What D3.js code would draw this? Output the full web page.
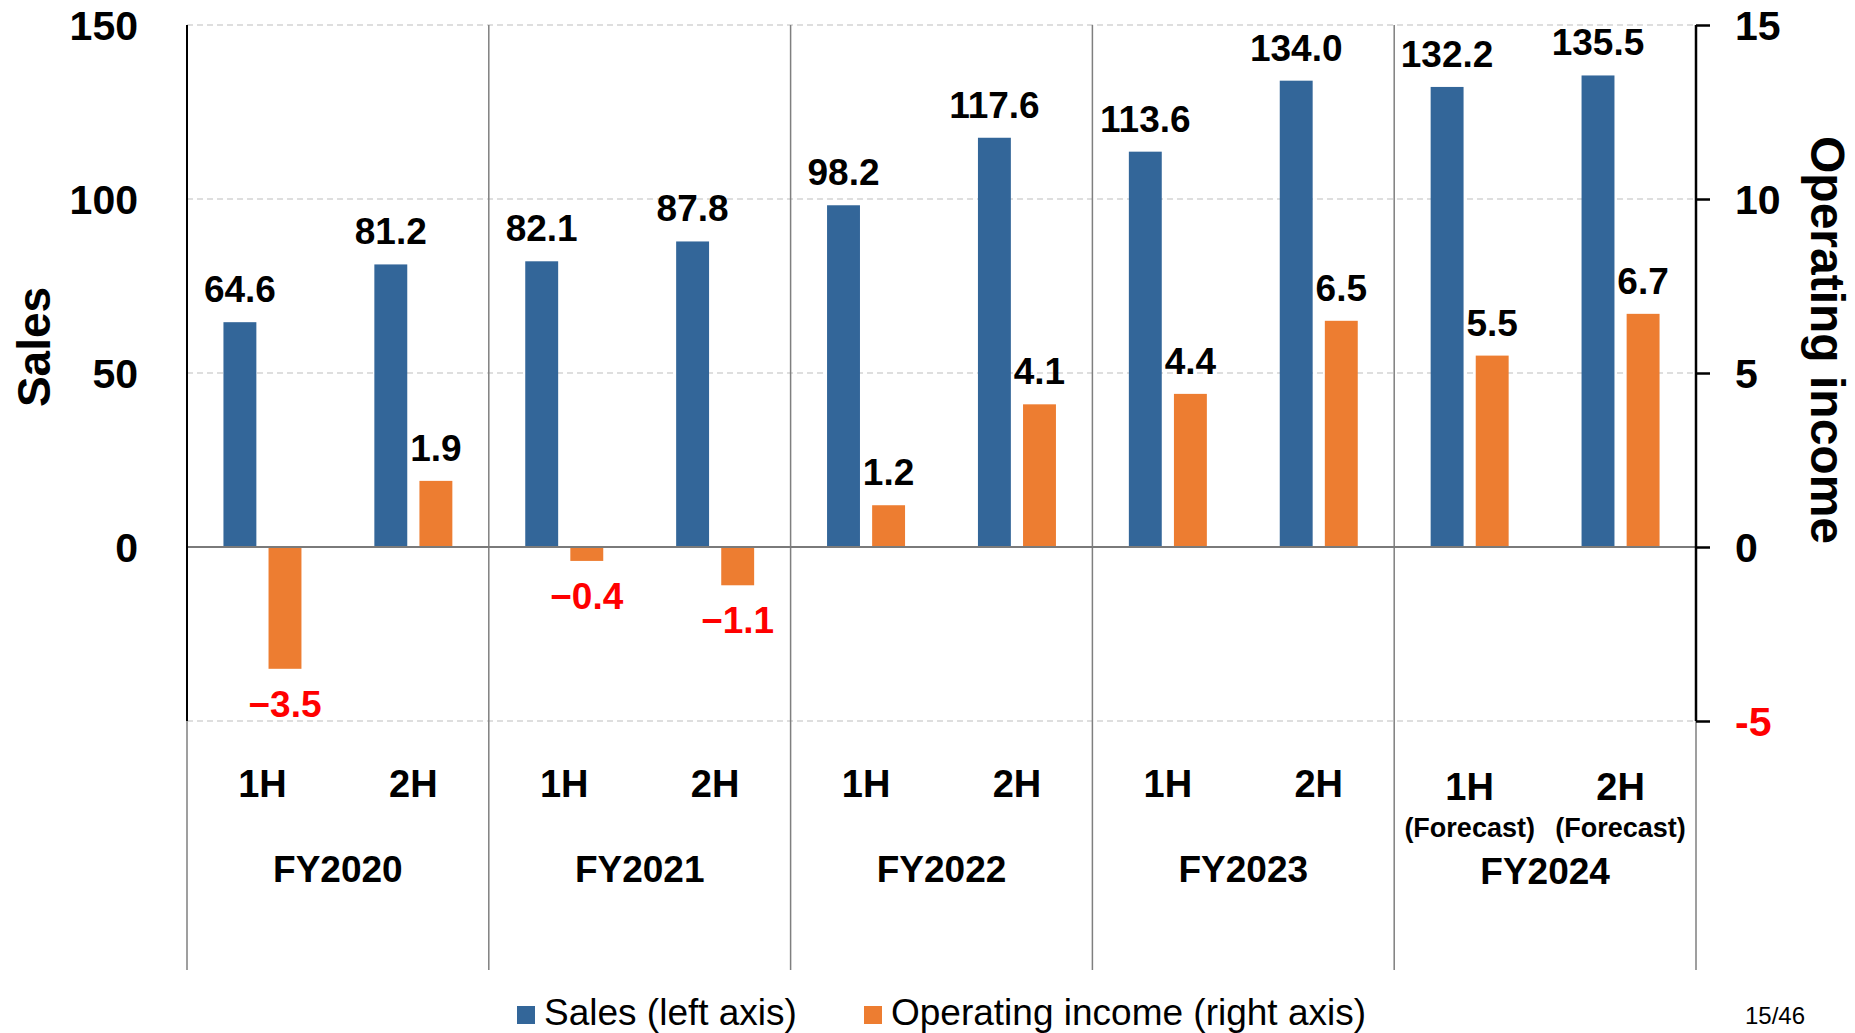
<!DOCTYPE html>
<html>
<head>
<meta charset="utf-8">
<script src="https://cdn.jsdelivr.net/npm/d3@7"></script>
<style>
  body { margin: 0; background: #fff; }
  text { font-family: "Liberation Sans", Arial, sans-serif; }
</style>
</head>
<body>
<div class="chart"></div>
<script>
// Sales vs operating income by half-year

var years = ["FY2020", "FY2021", "FY2022", "FY2023", "FY2024"];
var halves = ["1H", "2H"];
var forecastYear = "FY2024";
var sales = [64.6, 81.2, 82.1, 87.8, 98.2, 117.6, 113.6, 134.0, 132.2, 135.5];
var opIncome = [-3.5, 1.9, -0.4, -1.1, 1.2, 4.1, 4.4, 6.5, 5.5, 6.7];
var leftTicks = [0, 50, 100, 150];
var rightTicks = [-5, 0, 5, 10, 15];

var svgWidth = 1855;
var svgHeight = 1033;

var plot = { left: 187, right: 1696, top: 25, bottom: 721, sepBottom: 970 };

var svg = d3.select(".chart")
  .append("svg")
  .attr("width", svgWidth)
  .attr("height", svgHeight);

// rows: one per half-year
var rows = [];
years.forEach(function(y, i) {
  halves.forEach(function(h, j) {
    var k = i * 2 + j;
    rows.push({ year: y, half: h, sales: sales[k], income: opIncome[k] });
  });
});

// scales
var xYear = d3.scaleBand().domain(years).range([plot.left, plot.right]);
var xHalf = d3.scaleBand().domain(halves).range([0, xYear.bandwidth()]);
var sub = xHalf.bandwidth();
var xSeries = d3.scaleBand().domain(["sales", "income"])
  .range([sub / 2 - 39, sub / 2 + 39]).paddingInner(0.27);

var yLeft = d3.scaleLinear().domain([-50, 150]).range([plot.bottom, plot.top]);
var yRight = d3.scaleLinear().domain([-5, 15]).range([plot.bottom, plot.top]);

function xOf(d, s) {
  return xYear(d.year) + xHalf(d.half) + xSeries(s);
}

// gridlines (dashed)
svg.append("g")
  .selectAll("line")
  .data([-50, 50, 100, 150])
  .enter()
  .append("line")
  .attr("x1", plot.left)
  .attr("x2", plot.right)
  .attr("y1", d => yLeft(d))
  .attr("y2", d => yLeft(d))
  .attr("stroke", "#d4d4d4")
  .attr("stroke-width", 1.5)
  .attr("stroke-dasharray", "6,4");

// group separators
svg.append("g")
  .selectAll("line")
  .data(years.slice(1))
  .enter()
  .append("line")
  .attr("x1", d => xYear(d))
  .attr("x2", d => xYear(d))
  .attr("y1", plot.top)
  .attr("y2", plot.sepBottom)
  .attr("stroke", "#7f7f7f")
  .attr("stroke-width", 1.5);

// axis extensions below the plot
[plot.left, plot.right].forEach(function(x) {
  svg.append("line")
    .attr("x1", x).attr("x2", x)
    .attr("y1", plot.bottom).attr("y2", plot.sepBottom)
    .attr("stroke", "#7f7f7f")
    .attr("stroke-width", 1.5);
});

// bars
svg.append("g")
  .selectAll("rect")
  .data(rows)
  .enter()
  .append("rect")
  .attr("x", d => xOf(d, "sales"))
  .attr("width", xSeries.bandwidth())
  .attr("y", d => yLeft(d.sales))
  .attr("height", d => yLeft(0) - yLeft(d.sales))
  .attr("fill", "#336699");

svg.append("g")
  .selectAll("rect")
  .data(rows)
  .enter()
  .append("rect")
  .attr("x", d => xOf(d, "income"))
  .attr("width", xSeries.bandwidth())
  .attr("y", d => yRight(Math.max(0, d.income)))
  .attr("height", d => Math.abs(yRight(0) - yRight(d.income)))
  .attr("fill", "#ED7D31");

// zero line
svg.append("line")
  .attr("x1", plot.left)
  .attr("x2", plot.right)
  .attr("y1", yLeft(0))
  .attr("y2", yLeft(0))
  .attr("stroke", "#7a7a7a")
  .attr("stroke-width", 2);

// left axis
var leftAxis = d3.axisLeft(yLeft).tickValues(leftTicks).tickSize(0).tickPadding(49);
var gL = svg.append("g")
  .attr("transform", `translate(${plot.left}, 0)`)
  .call(leftAxis);
gL.select(".domain").remove();
gL.selectAll("text")
  .attr("font-size", 41)
  .attr("font-weight", "bold")
  .attr("fill", "#000")
  .attr("dy", "0.36em")
  .style("font-family", "'Liberation Sans', Arial, sans-serif");
svg.append("line")
  .attr("x1", plot.left).attr("x2", plot.left)
  .attr("y1", plot.top).attr("y2", plot.bottom)
  .attr("stroke", "#000").attr("stroke-width", 2);

// right axis
var rightAxis = d3.axisRight(yRight).tickValues(rightTicks).tickSize(14).tickPadding(25)
  .tickFormat(d => d === -5 ? "-5" : d);
var gR = svg.append("g")
  .attr("transform", `translate(${plot.right}, 0)`)
  .call(rightAxis);
gR.select(".domain").attr("stroke", "#000").attr("stroke-width", 2.5).attr("d", `M0,${plot.top}V${plot.bottom}`);
gR.selectAll(".tick line").attr("stroke", "#000").attr("stroke-width", 2.5);
gR.selectAll("text")
  .attr("font-size", 41)
  .attr("font-weight", "bold")
  .attr("fill", d => d < 0 ? "#ff0000" : "#000")
  .attr("dy", "0.36em")
  .style("font-family", "'Liberation Sans', Arial, sans-serif");

// data labels
function fmt(v) {
  return v < 0 ? "\u2212" + Math.abs(v).toFixed(1) : v.toFixed(1);
}

svg.append("g")
  .selectAll("text")
  .data(rows)
  .enter()
  .append("text")
  .attr("x", d => xOf(d, "sales") + xSeries.bandwidth() / 2)
  .attr("y", d => yLeft(d.sales) - 20)
  .attr("text-anchor", "middle")
  .attr("font-size", 37)
  .attr("font-weight", "bold")
  .text(d => fmt(d.sales));

svg.append("g")
  .selectAll("text")
  .data(rows)
  .enter()
  .append("text")
  .attr("x", d => xOf(d, "income") + xSeries.bandwidth() / 2)
  .attr("y", d => d.income < 0 ? yRight(d.income) + 48 : yRight(d.income) - 20)
  .attr("text-anchor", "middle")
  .attr("font-size", 37)
  .attr("font-weight", "bold")
  .attr("fill", d => d.income < 0 ? "#ff0000" : "#000")
  .text(d => fmt(d.income));

// category labels
svg.append("g")
  .selectAll("text")
  .data(rows)
  .enter()
  .append("text")
  .attr("x", d => xYear(d.year) + xHalf(d.half) + sub / 2)
  .attr("y", d => d.year === forecastYear ? 800 : 797)
  .attr("text-anchor", "middle")
  .attr("font-size", 38)
  .attr("font-weight", "bold")
  .text(d => d.half);

svg.append("g")
  .selectAll("text")
  .data(rows.filter(d => d.year === forecastYear))
  .enter()
  .append("text")
  .attr("x", d => xYear(d.year) + xHalf(d.half) + sub / 2)
  .attr("y", 837)
  .attr("text-anchor", "middle")
  .attr("font-size", 27)
  .attr("font-weight", "bold")
  .text("(Forecast)");

svg.append("g")
  .selectAll("text")
  .data(years)
  .enter()
  .append("text")
  .attr("x", d => xYear(d) + xYear.bandwidth() / 2)
  .attr("y", d => d === forecastYear ? 884 : 882)
  .attr("text-anchor", "middle")
  .attr("font-size", 37)
  .attr("font-weight", "bold")
  .text(d => d);

// axis titles
svg.append("text")
  .attr("transform", "translate(50, 347) rotate(-90)")
  .attr("text-anchor", "middle")
  .attr("font-size", 46)
  .attr("font-weight", "bold")
  .text("Sales");

svg.append("text")
  .attr("transform", "translate(1811, 340) rotate(90)")
  .attr("text-anchor", "middle")
  .attr("font-size", 48)
  .attr("font-weight", "bold")
  .text("Operating income");

// legend
var legendItems = [
  { label: "Sales (left axis)", color: "#336699", x: 517 },
  { label: "Operating income (right axis)", color: "#ED7D31", x: 864 }
];
var legend = svg.append("g");
legend.selectAll("rect")
  .data(legendItems)
  .enter()
  .append("rect")
  .attr("x", d => d.x)
  .attr("y", 1006)
  .attr("width", 18)
  .attr("height", 18)
  .attr("fill", d => d.color);
legend.selectAll("text")
  .data(legendItems)
  .enter()
  .append("text")
  .attr("x", d => d.x + 27)
  .attr("y", 1025)
  .attr("font-size", 37)
  .text(d => d.label);

// page number
svg.append("text")
  .attr("x", 1805)
  .attr("y", 1024)
  .attr("text-anchor", "end")
  .attr("font-size", 24)
  .text("15/46");
</script>
</body>
</html>
